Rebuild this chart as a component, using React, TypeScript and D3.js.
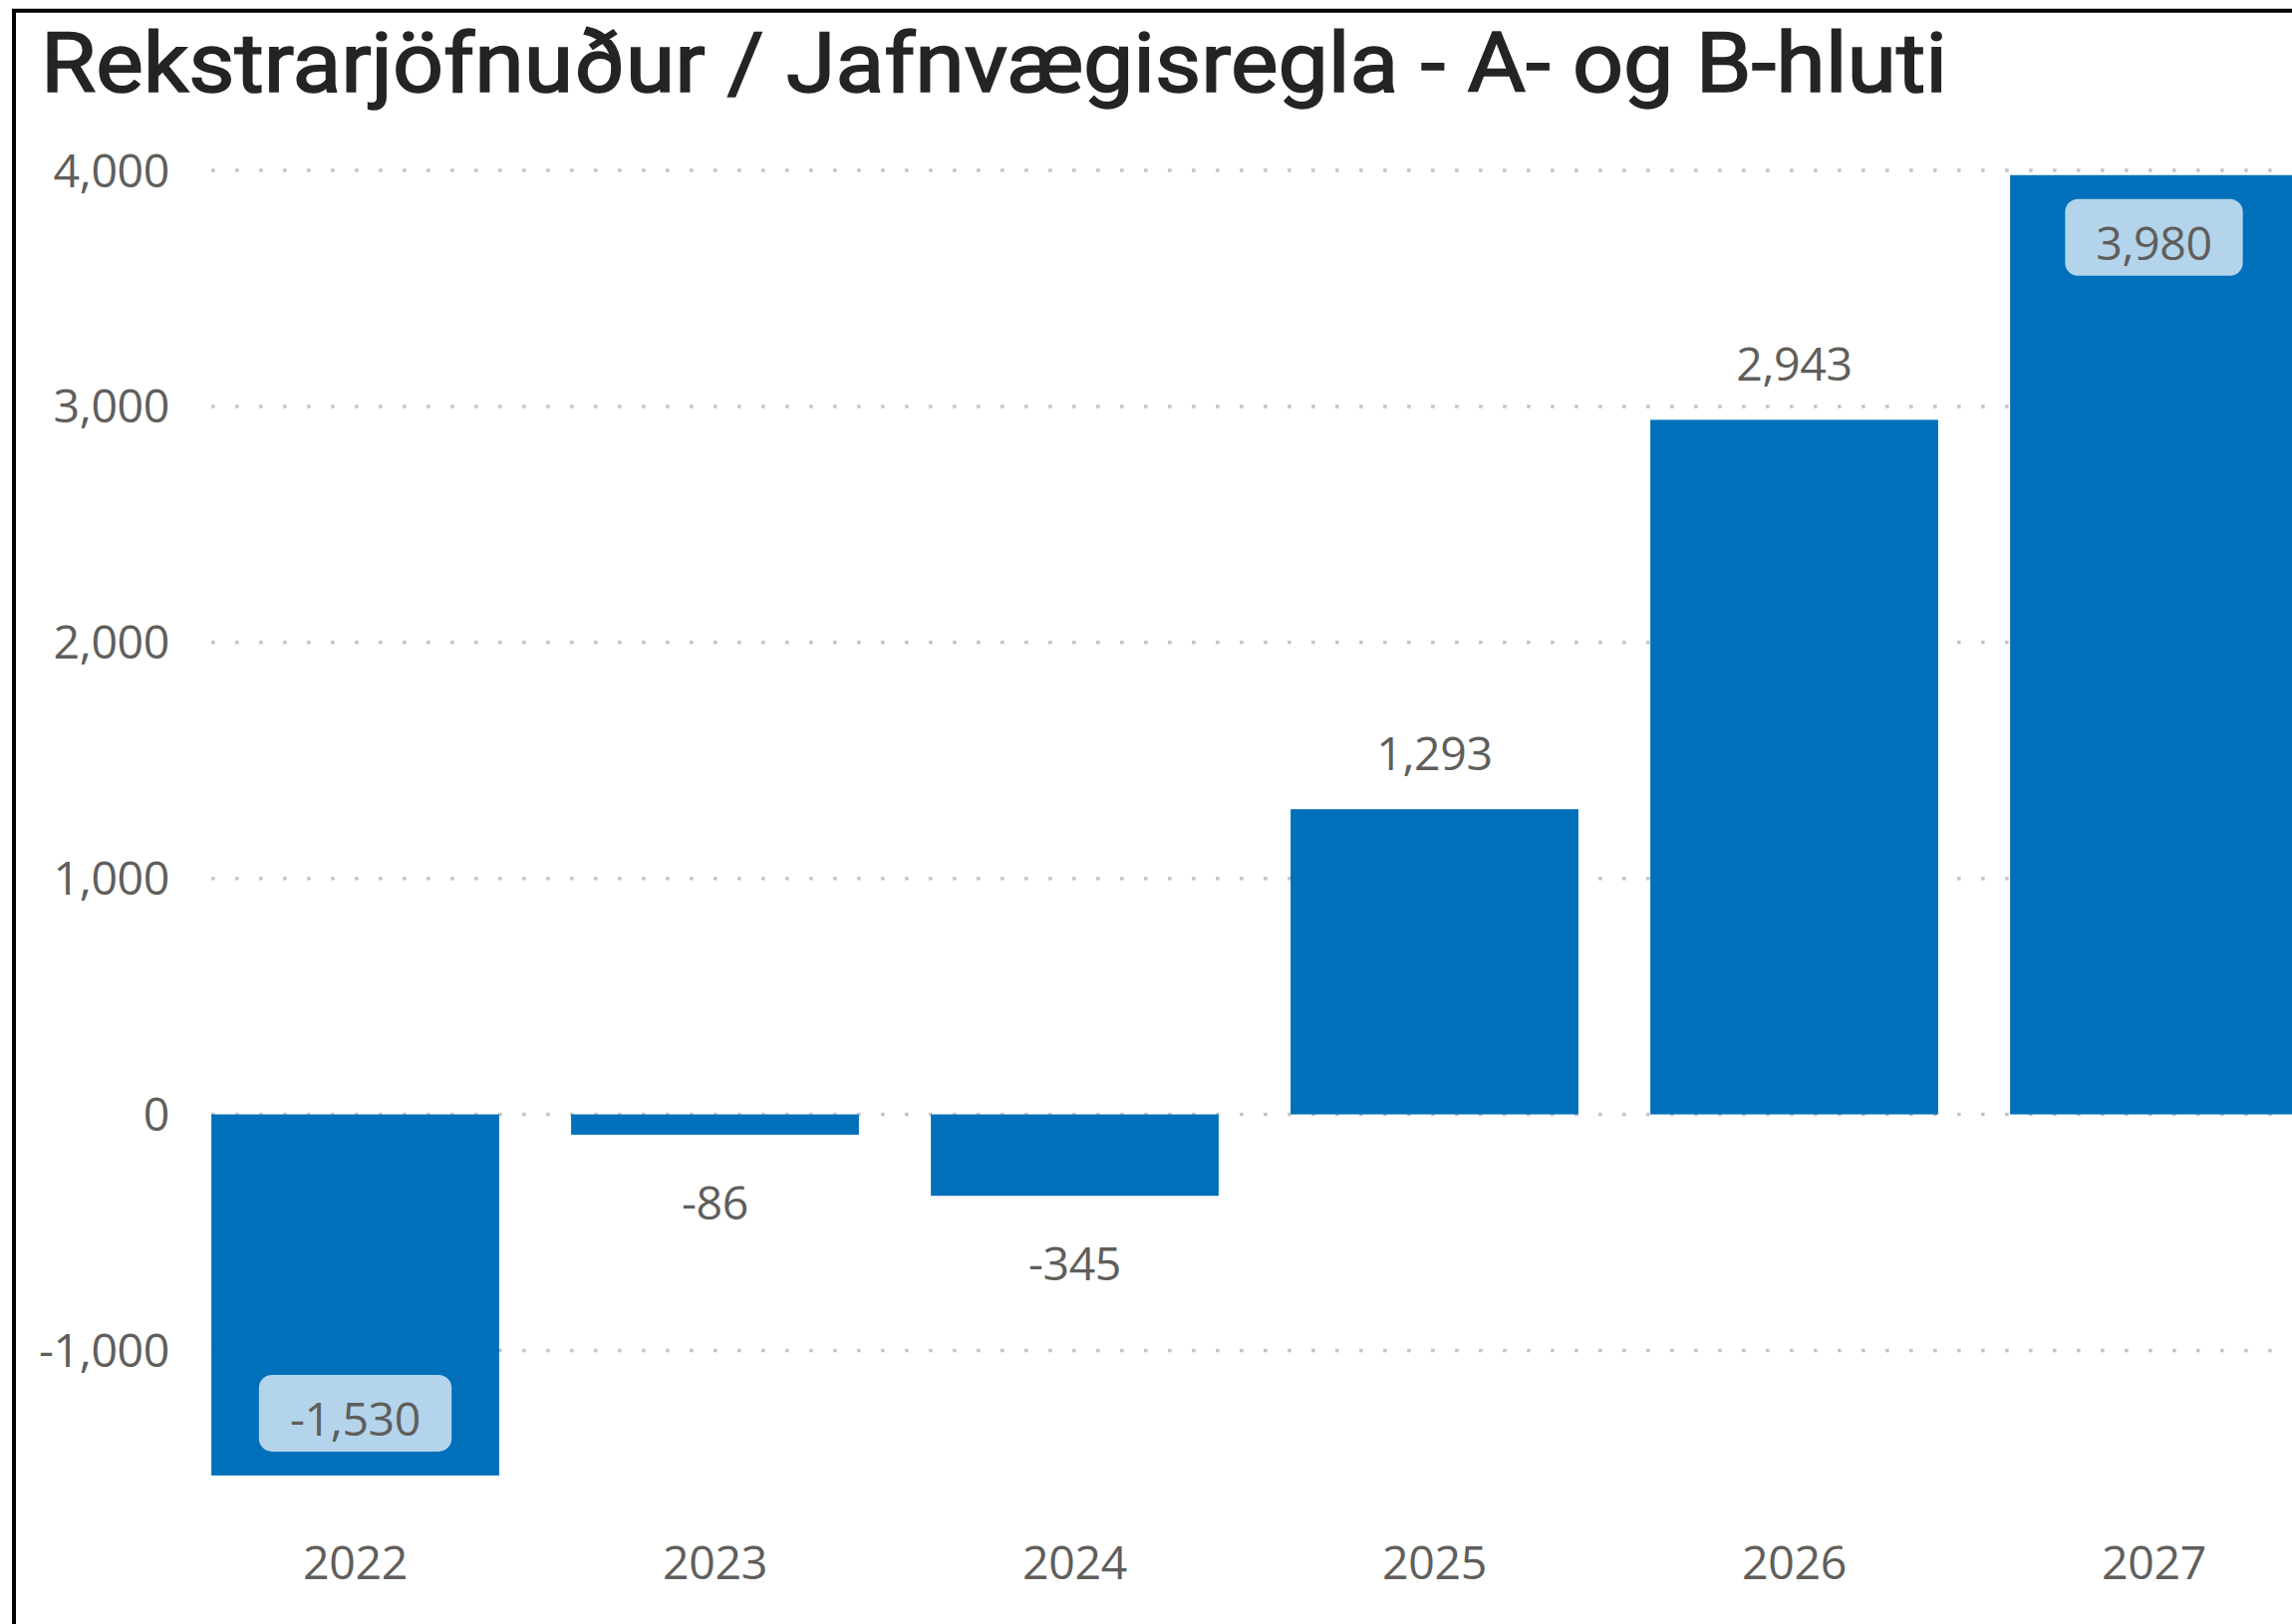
import React from "react";
import * as d3 from "d3";

const categories = ["2022", "2023", "2024", "2025", "2026", "2027"];
const values = [-1530, -86, -345, 1293, 2943, 3980];
const yTicks = [-1000, 0, 1000, 2000, 3000, 4000];
const title = "Rekstrarjöfnuður / Jafnvægisregla - A- og B-hluti";

const W = 2300;
const H = 1630;
const LABEL_FONT = "'Open Sans', 'Noto Sans', sans-serif";
const LABEL_SIZE = 46.5;
const TEXT_COLOR = "#605E5C";
const BAR_COLOR = "#0070BB";
const BOX_COLOR = "#B3D4EA";

const fmt = d3.formatLocale({
  decimal: ".",
  thousands: ",",
  grouping: [3],
  currency: ["$", ""],
  minus: "-",
}).format(",");

function measure(text: string): number {
  const c = document.createElement("canvas");
  const ctx = c.getContext("2d");
  if (!ctx) return text.length * 25;
  ctx.font = `${LABEL_SIZE}px 'Open Sans'`;
  return ctx.measureText(text).width;
}

export default function App() {
  const x = d3
    .scaleBand<string>()
    .domain(categories)
    .range([176, 2342])
    .paddingInner(0.2)
    .paddingOuter(0.1);
  const y = d3.scaleLinear().domain([0, 4000]).range([1118.5, 171]);

  const plotTop = 140;
  const plotBottom = 1500;
  const gridX0 = x(categories[0]) as number;

  const labelProps = {
    fontFamily: LABEL_FONT,
    fontSize: LABEL_SIZE,
    fill: TEXT_COLOR,
    letterSpacing: -0.4,
  };

  return (
    <svg
      width={W}
      height={H}
      viewBox={`0 0 ${W} ${H}`}
      style={{ position: "absolute", left: 0, top: 0, display: "block", background: "#fff" }}
    >
      <rect x={0} y={0} width={W} height={H} fill="#fff" />
      {/* gridlines */}
      {yTicks.map((t) => (
        <line
          key={"g" + t}
          x1={gridX0}
          x2={W}
          y1={y(t)}
          y2={y(t)}
          stroke="#C4C4C4"
          strokeWidth={3.5}
          strokeDasharray="3.5 20.5"
        />
      ))}
      {/* y tick labels */}
      {yTicks.map((t) => (
        <text key={"t" + t} x={170} y={y(t) + 16.5} textAnchor="end" {...labelProps}>
          {fmt(t)}
        </text>
      ))}
      {/* bars */}
      {categories.map((c, i) => {
        const v = values[i];
        const y0 = y(0);
        const y1 = y(v);
        return (
          <rect
            key={"b" + c}
            x={x(c)}
            y={Math.min(y0, y1)}
            width={x.bandwidth()}
            height={Math.abs(y1 - y0)}
            fill={BAR_COLOR}
          />
        );
      })}
      {/* data labels */}
      {categories.map((c, i) => {
        const v = values[i];
        const cx = (x(c) as number) + x.bandwidth() / 2;
        const label = fmt(v);
        const end = y(v);
        if (v >= 0) {
          const outBase = end - 39;
          if (outBase - 35 >= plotTop) {
            return (
              <text key={"l" + c} x={cx} y={outBase} textAnchor="middle" {...labelProps}>
                {label}
              </text>
            );
          }
          const bw = measure(label) + 60;
          const top = end + 24;
          return (
            <g key={"l" + c}>
              <rect x={cx - bw / 2} y={top} width={bw} height={77} rx={13} fill={BOX_COLOR} />
              <text x={cx} y={top + 61} textAnchor="middle" {...labelProps}>
                {label}
              </text>
            </g>
          );
        } else {
          const outBase = end + 85;
          if (outBase <= plotBottom) {
            return (
              <text key={"l" + c} x={cx} y={outBase} textAnchor="middle" {...labelProps}>
                {label}
              </text>
            );
          }
          const bw = measure(label) + 60;
          const top = end - 24 - 77;
          return (
            <g key={"l" + c}>
              <rect x={cx - bw / 2} y={top} width={bw} height={77} rx={13} fill={BOX_COLOR} />
              <text x={cx} y={top + 61} textAnchor="middle" {...labelProps}>
                {label}
              </text>
            </g>
          );
        }
      })}
      {/* x axis labels */}
      {categories.map((c) => (
        <text
          key={"x" + c}
          x={(x(c) as number) + x.bandwidth() / 2}
          y={1585}
          textAnchor="middle"
          {...labelProps}
        >
          {c}
        </text>
      ))}
      {/* title */}
      <text
        x={41}
        y={92}
        fontFamily="Roboto, 'DejaVu Sans', sans-serif"
        fontWeight={400}
        fontSize={84}
        fill="#252423"
        stroke="#252423"
        strokeWidth={1.6}
        textLength={1913}
        lengthAdjust="spacingAndGlyphs"
      >
        {title}
      </text>
      {/* border */}
      <rect x={14} y={10.75} width={2600} height={2000} fill="none" stroke="#000" strokeWidth={4} />
    </svg>
  );
}
